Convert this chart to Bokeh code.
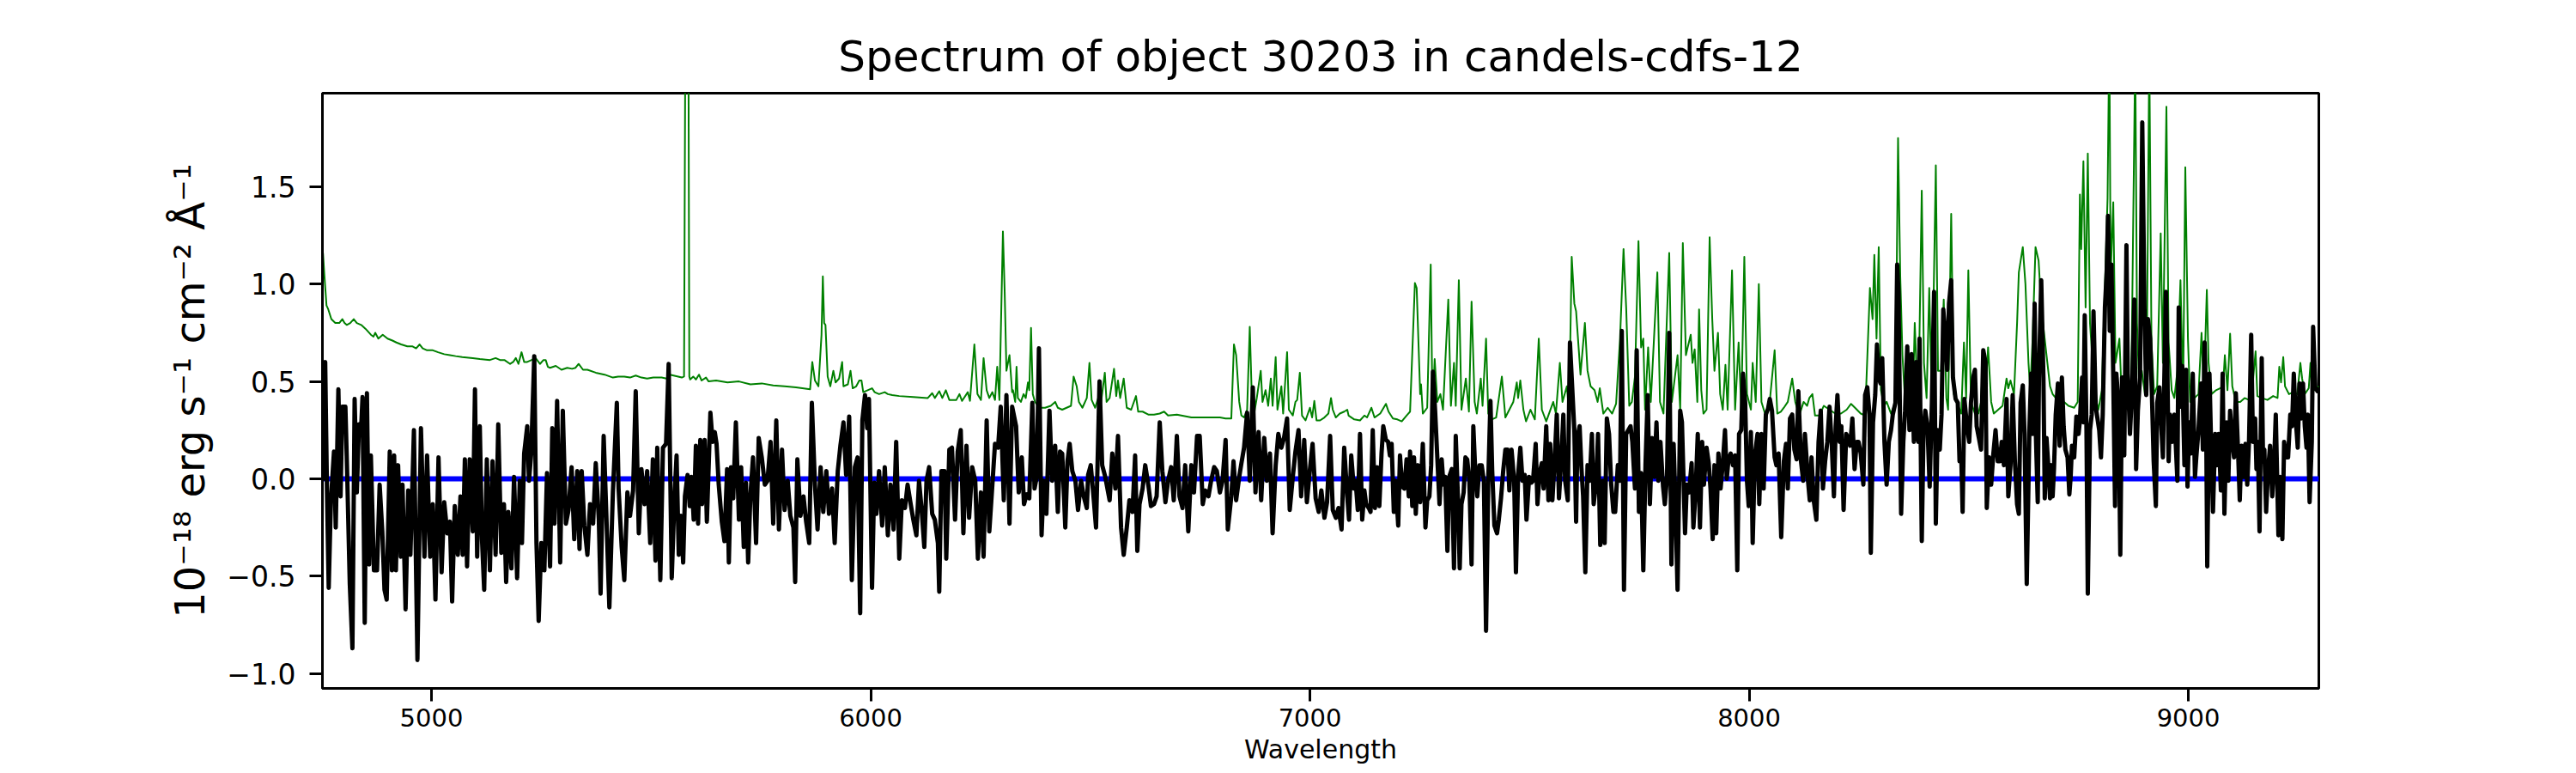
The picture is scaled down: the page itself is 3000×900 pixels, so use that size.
from bokeh.plotting import figure
from bokeh.models import Range1d, FixedTicker, CustomJSTickFormatter, Span
from bokeh.embed import file_html
from bokeh.resources import INLINE

TITLE = "Spectrum of object 30203 in candels-cdfs-12"
X_LABEL = "Wavelength"
Y_LABEL = "10\u207b\u00b9\u2078 erg s\u207b\u00b9 cm\u207b\u00b2 \u00c5\u207b\u00b9"
X_TICKS = [5000, 6000, 7000, 8000, 9000]
Y_TICKS = [-1.0, -0.5, 0.0, 0.5, 1.0, 1.5]
X_LIMITS = (4751.7, 9297.0)
Y_LIMITS = (-1.076, 1.98)
ZERO_LEVEL = 0.0

FLUX_WAVE_A = [
    4755, 4758, 4762, 4766, 4771, 4778, 4782, 4788, 4793, 4797,
    4804, 4808, 4814, 4820, 4825, 4830, 4835, 4840, 4843, 4848,
    4853, 4858, 4862, 4869, 4876, 4882, 4888, 4893, 4898, 4905,
    4910, 4915, 4919, 4924, 4930, 4934, 4941, 4947, 4952, 4960,
    4968, 4976, 4984, 4990, 4997, 5003, 5009, 5016, 5023, 5029,
    5036, 5042, 5047, 5053, 5060, 5066, 5071, 5076, 5081, 5087,
    5094, 5099, 5104, 5110, 5115, 5120, 5126, 5133, 5139, 5146,
    5152, 5159, 5165, 5170, 5175, 5182, 5188, 5195, 5201, 5206,
    5211, 5218, 5222, 5227, 5234, 5239, 5244, 5250, 5257, 5263,
    5270, 5275, 5280, 5286, 5293, 5299, 5306, 5312, 5319, 5325,
    5332, 5337, 5342, 5348, 5355, 5361, 5368, 5374, 5381, 5385,
    5392, 5397, 5405, 5413, 5422, 5426, 5433, 5439, 5446, 5452,
    5459, 5465, 5472, 5478, 5485, 5491, 5498, 5504, 5510, 5514,
    5521, 5527, 5534, 5540, 5547,
]
FLUX_A = [
    -0.01, 0.60, -0.05, -0.56, -0.11, 0.14, -0.25, 0.46, -0.09, 0.37,
    0.37, 0.03, -0.54, -0.87, 0.41, -0.07, 0.28, 0.27, 0.42, -0.74,
    0.44, -0.44, 0.12, -0.47, -0.47, -0.03, -0.27, -0.57, -0.62, 0.14,
    -0.47, 0.12, -0.47, 0.07, -0.40, -0.03, -0.67, -0.06, -0.39, 0.25,
    -0.93, 0.26, -0.40, 0.12, -0.40, -0.13, -0.62, 0.11, -0.48, -0.12,
    -0.28, -0.22, -0.63, -0.14, -0.39, -0.09, -0.39, 0.10, -0.45, 0.10,
    -0.27, 0.46, -0.40, 0.27, -0.31, -0.57, 0.10, -0.47, 0.09, -0.39,
    0.28, -0.38, -0.13, -0.53, -0.17, -0.46, 0.01, -0.51, -0.01, -0.33,
    0.13, 0.27, -0.01, 0.13, 0.63, -0.33, -0.73, -0.33, -0.47, 0.03,
    -0.45, 0.26, -0.23, 0.40, -0.43, 0.35, -0.23, -0.16, 0.06, -0.31,
    0.04, -0.36, 0.04, -0.24, -0.39, -0.13, -0.23, 0.08, -0.21, -0.59,
    0.22, -0.11, -0.66, -0.07, 0.39, -0.05, -0.35, -0.52, -0.07, -0.19,
    -0.06, 0.45, -0.28, 0.05, -0.13, 0.04, -0.33, 0.10, -0.42, 0.16,
    -0.52, 0.16, 0.18, 0.59, -0.51,
]
FLUX_WAVE_B = [
    5553, 5558, 5563, 5568, 5573, 5577, 5583, 5588, 5592, 5597,
    5602, 5607, 5612, 5616, 5622, 5627, 5635, 5640, 5645, 5649,
    5654, 5661, 5667, 5673, 5677, 5682, 5687, 5693, 5700, 5705,
    5711, 5716, 5721, 5726, 5732, 5739, 5745, 5752, 5759, 5765,
    5772, 5778, 5785, 5791, 5798, 5804, 5811, 5817, 5824, 5828,
    5833, 5840, 5847, 5853, 5860, 5866, 5873, 5879, 5886, 5892,
    5899, 5905, 5912, 5918, 5925, 5931, 5938, 5944, 5951, 5957,
    5964, 5970, 5976, 5981, 5987, 5992, 5996, 6003, 6008, 6013,
    6019, 6026, 6032, 6039, 6045, 6052, 6058, 6065, 6071, 6078,
    6084, 6091, 6097, 6104, 6110, 6116, 6122, 6127, 6133, 6140,
    6146, 6153, 6156, 6161, 6168, 6172, 6179, 6185, 6192, 6198,
    6205, 6211, 6218, 6224, 6231, 6238, 6244, 6251, 6257, 6264,
    6270, 6277, 6283, 6290, 6296, 6303, 6309, 6316, 6322,
]
FLUX_B = [
    -0.11, 0.12, -0.39, -0.19, -0.43, -0.09, 0.02, -0.14, 0.01, -0.21,
    0.17, -0.23, 0.20, -0.13, 0.20, -0.22, 0.34, 0.19, 0.24, 0.18,
    -0.03, -0.22, -0.32, 0.05, -0.43, 0.06, -0.10, 0.29, -0.21, 0.06,
    -0.35, -0.02, -0.43, -0.09, 0.11, -0.33, 0.21, 0.11, -0.03, -0.01,
    0.19, -0.23, 0.30, -0.26, 0.15, -0.16, -0.01, -0.19, -0.25, -0.53,
    0.10, -0.19, -0.09, -0.22, -0.33, 0.39, -0.03, -0.26, 0.06, -0.17,
    0.04, -0.18, -0.05, -0.33, 0.04, 0.17, 0.29, 0.02, 0.32, -0.52,
    0.06, 0.11, -0.69, 0.30, 0.43, 0.26, 0.41, -0.56, -0.02, -0.18,
    0.04, -0.24, 0.06, -0.29, -0.03, -0.26, 0.19, -0.41, -0.11, -0.15,
    -0.03, -0.13, -0.21, -0.29, -0.01, -0.16, -0.35, -0.01, 0.06, -0.18,
    -0.21, -0.33, -0.58, 0.04, 0.04, -0.41, 0.15, 0.16, -0.21, 0.14,
    0.25, -0.28, 0.17, -0.20, 0.06, -0.01, -0.41, -0.07, -0.40, 0.30,
    -0.27, -0.03, 0.18, 0.16, 0.37, -0.11, 0.43, -0.23, 0.37,
]
FLUX_WAVE_C = [
    6331, 6337, 6344, 6349, 6355, 6361, 6368, 6373, 6378, 6383,
    6389, 6394, 6400, 6407, 6413, 6420, 6426, 6431, 6436, 6443,
    6448, 6453, 6459, 6466, 6472, 6479, 6485, 6492, 6495, 6501,
    6508, 6513, 6521, 6527, 6534, 6544, 6550, 6557, 6563, 6570,
    6576, 6583, 6589, 6596, 6602, 6607, 6612, 6619, 6625, 6632,
    6638, 6645, 6651, 6658, 6664, 6671, 6677, 6684, 6690, 6697,
    6703, 6710, 6716, 6723, 6730, 6736, 6743, 6749, 6756, 6762,
    6769, 6775, 6782, 6788, 6795, 6801, 6808, 6813, 6821, 6826,
    6832, 6839, 6844, 6850, 6857, 6863, 6870, 6876, 6883, 6889,
    6896, 6902, 6909, 6915, 6922, 6928, 6935, 6941, 6948, 6954,
    6961, 6967, 6974, 6980, 6987, 6993, 7000, 7006, 7013, 7020,
    7026, 7033, 7039, 7046, 7052, 7059, 7065, 7072, 7078, 7085,
]
FLUX_C = [
    0.27, -0.07, 0.11, -0.13, -0.08, -0.10, 0.39, -0.05, 0.01, 0.67,
    -0.29, -0.01, -0.18, 0.35, -0.01, 0.17, -0.17, 0.14, 0.13, -0.25,
    0.09, 0.18, 0.04, -0.01, -0.16, -0.01, -0.09, -0.15, 0.02, 0.07,
    -0.11, -0.25, 0.50, 0.07, 0.01, -0.11, 0.13, -0.05, 0.22, -0.25,
    -0.39, -0.25, -0.11, -0.17, 0.12, -0.37, -0.13, -0.05, 0.07, -0.03,
    -0.14, -0.13, -0.09, 0.29, 0.04, -0.12, -0.01, 0.06, -0.11, 0.22,
    -0.09, -0.15, 0.07, -0.27, 0.07, -0.07, 0.22, 0.22, -0.13, -0.06,
    -0.09, -0.01, 0.06, 0.04, -0.07, -0.01, 0.20, -0.26, -0.09, 0.09,
    -0.11, 0.01, 0.08, 0.16, 0.34, -0.01, 0.47, -0.07, 0.24, -0.11,
    0.21, -0.01, 0.13, -0.28, 0.07, 0.23, 0.16, 0.21, 0.31, -0.16,
    0.01, 0.14, 0.25, -0.09, 0.20, -0.12, 0.05, 0.18, -0.10, -0.17,
    -0.06, -0.20, -0.12, 0.22, -0.16, -0.20, -0.15, -0.26, 0.16, -0.09,
]
FLUX_WAVE_D = [
    7089, 7094, 7100, 7104, 7109, 7114, 7119, 7124, 7128, 7134,
    7138, 7143, 7148, 7153, 7158, 7163, 7167, 7173, 7178, 7182,
    7186, 7191, 7195, 7201, 7205, 7210, 7215, 7220, 7225, 7228,
    7233, 7237, 7241, 7246, 7251, 7257, 7263, 7267, 7272, 7276,
    7280, 7285, 7290, 7295, 7300, 7304, 7308, 7313, 7317, 7323,
    7328, 7332, 7337, 7341, 7345, 7350, 7354, 7358, 7363, 7368,
    7372, 7376, 7381, 7386, 7391, 7396, 7401, 7406, 7411, 7415,
    7420, 7426, 7430, 7435, 7440, 7445, 7450, 7454, 7459, 7465,
    7469, 7474, 7479, 7484, 7489, 7493, 7499, 7504, 7508, 7514,
    7518, 7523, 7528, 7532, 7538, 7543, 7547, 7552, 7557, 7562,
    7567, 7572, 7577, 7581, 7587, 7592, 7596, 7602, 7606, 7609,
    7614, 7618, 7622, 7627, 7632, 7637, 7642, 7646, 7652, 7656,
    7661, 7667, 7671, 7676, 7681, 7686, 7691, 7695, 7701, 7706,
    7710, 7715, 7720, 7725, 7730, 7734, 7740, 7744, 7749, 7754,
    7759, 7764, 7769, 7774, 7779, 7784, 7789, 7793, 7798, 7804,
    7808, 7813, 7818, 7823, 7828, 7832, 7837, 7843, 7847,
]
FLUX_D = [
    -0.21, 0.12, -0.05, -0.01, -0.16, 0.23, -0.21, -0.06, -0.13, -0.15,
    -0.17, 0.25, -0.15, 0.06, -0.14, 0.13, 0.27, 0.20, 0.19, 0.12,
    0.18, -0.17, -0.01, -0.24, 0.12, -0.04, -0.05, 0.10, -0.09, 0.14,
    -0.14, 0.11, -0.18, 0.07, -0.12, 0.18, -0.25, -0.11, -0.09, 0.07,
    0.55, 0.35, 0.11, -0.13, 0.10, -0.03, 0.01, -0.37, 0.01, 0.05,
    -0.46, 0.22, -0.10, -0.46, -0.13, -0.07, 0.11, 0.10, -0.01, -0.44,
    0.27, 0.06, -0.09, 0.07, 0.07, -0.01, -0.78, -0.01, 0.40, 0.04,
    -0.24, -0.28, -0.21, -0.10, 0.04, 0.15, 0.15, -0.06, 0.15, -0.01,
    -0.48, 0.02, 0.16, -0.01, 0.02, -0.21, 0.01, -0.02, -0.01, 0.18,
    -0.13, 0.03, 0.08, -0.05, 0.27, -0.11, 0.18, -0.11, 0.09, 0.33,
    -0.10, 0.09, 0.33, -0.01, -0.11, 0.70, 0.52, 0.25, -0.22, 0.21,
    0.27, 0.06, -0.09, -0.48, 0.07, -0.01, 0.23, -0.13, -0.01, 0.23,
    -0.34, -0.01, -0.33, 0.31, 0.23, -0.03, -0.17, -0.17, 0.07, -0.01,
    0.76, -0.57, 0.23, 0.25, 0.27, 0.19, -0.05, 0.66, -0.17, 0.03,
    -0.47, 0.07, 0.43, -0.13, 0.21, 0.01, 0.29, -0.01, 0.19, -0.04,
    -0.13, 0.01, 0.75, -0.44, 0.18, -0.11, -0.57, 0.35, 0.29,
]
FLUX_WAVE_E = [
    7854, 7858, 7863, 7869, 7873, 7878, 7883, 7888, 7893, 7897,
    7903, 7908, 7912, 7917, 7921, 7925, 7930, 7935, 7940, 7945,
    7949, 7953, 7958, 7963, 7968, 7973, 7977, 7982, 7986, 7991,
    7995, 7999, 8004, 8008, 8013, 8019, 8023, 8028, 8033, 8038,
    8043, 8047, 8052, 8058, 8062, 8067, 8073, 8079, 8084, 8088,
    8093, 8098, 8103, 8108, 8112, 8118, 8123, 8127, 8134, 8138,
    8142, 8147, 8153, 8158, 8163, 8168, 8173, 8178, 8183, 8188,
    8193, 8197, 8201, 8206, 8210, 8215, 8221, 8225, 8230, 8235,
    8240, 8245, 8249, 8254, 8260, 8264, 8269, 8274, 8277, 8282,
    8287, 8291, 8295, 8299, 8303, 8308, 8313, 8318, 8323, 8327,
    8333, 8337, 8340, 8346, 8351, 8355, 8360, 8365, 8370, 8375,
    8380, 8385, 8388, 8393, 8397, 8401, 8406, 8411, 8416, 8421,
    8425, 8429, 8434, 8438, 8442, 8447, 8451, 8455, 8460, 8464,
    8470, 8475, 8479, 8483, 8486, 8490, 8496, 8501, 8505, 8510,
    8514, 8518, 8523, 8528, 8533, 8538, 8541, 8546, 8551, 8556,
    8561, 8566, 8571, 8575, 8580, 8586, 8590, 8595, 8600, 8605,
    8610,
]
FLUX_E = [
    -0.28, -0.03, -0.07, 0.08, -0.25, -0.07, 0.23, -0.25, 0.19, -0.03,
    0.16, 0.08, -0.05, -0.31, 0.07, -0.28, 0.13, -0.05, 0.08, 0.25,
    0.00, 0.10, 0.13, 0.07, 0.12, -0.47, 0.23, 0.25, 0.54, 0.39,
    -0.01, -0.14, 0.24, -0.33, 0.12, 0.23, -0.13, 0.23, -0.05, 0.33,
    0.36, 0.41, 0.35, 0.11, 0.07, 0.13, -0.30, 0.09, 0.18, -0.05,
    0.31, 0.33, 0.15, 0.10, 0.45, 0.09, -0.01, 0.23, -0.01, -0.11,
    0.11, -0.11, -0.21, 0.19, 0.35, -0.05, 0.09, 0.19, 0.37, 0.18,
    -0.09, 0.27, 0.43, 0.19, 0.27, -0.16, 0.23, 0.21, 0.17, 0.31,
    0.05, 0.19, 0.19, 0.13, -0.03, 0.43, 0.47, 0.33, -0.38, 0.29,
    0.43, 0.69, 0.52, 0.49, 0.62, 0.19, -0.03, 0.19, 0.25, 0.33,
    0.39, 1.10, 0.96, -0.18, 0.19, 0.35, 0.68, 0.25, 0.64, 0.19,
    0.60, 0.19, 0.72, -0.32, 0.25, 0.35, 0.27, -0.04, 0.39, 0.96,
    -0.23, 0.25, 0.15, 0.33, 0.87, 0.72, 0.56, 0.90, 1.02, 0.52,
    0.41, 0.39, 0.09, 0.11, -0.17, 0.41, 0.27, 0.19, 0.39, 0.52,
    0.56, 0.27, 0.21, 0.15, 0.66, 0.60, -0.15, 0.11, -0.03, 0.13,
    0.25, 0.09, 0.09, 0.19, 0.07, 0.41, -0.09, 0.07, 0.43, 0.09,
    -0.13,
]
FLUX_WAVE_F = [
    8614, 8618, 8623, 8627, 8632, 8638, 8642, 8645, 8650, 8653,
    8657, 8660, 8665, 8670, 8673, 8677, 8681, 8685, 8688, 8691,
    8694, 8698, 8703, 8707, 8712, 8716, 8720, 8725, 8729, 8732,
    8735, 8740, 8745, 8750, 8753, 8758, 8761, 8764, 8768, 8771,
    8776, 8780, 8784, 8789, 8793, 8797, 8801, 8805, 8810, 8814,
    8817, 8821, 8825, 8829, 8833, 8836, 8841, 8845, 8849, 8854,
    8859, 8862, 8867, 8872, 8877, 8881, 8885, 8890, 8895, 8900,
    8904, 8908, 8913, 8917, 8921, 8926, 8929, 8934, 8937, 8942,
    8945, 8949, 8952, 8955, 8958, 8963, 8968, 8971, 8975, 8978,
    8982, 8986, 8991, 8995, 8998, 9002, 9006, 9010, 9015, 9018,
    9023, 9029, 9033, 9037, 9040, 9043, 9048, 9051, 9056, 9061,
    9065, 9069, 9074, 9078, 9082, 9087, 9091, 9095, 9100, 9104,
    9108, 9113, 9117, 9121, 9126, 9130, 9134, 9138, 9143, 9147,
    9152, 9155, 9158, 9162, 9167, 9170, 9173, 9177, 9181, 9186,
    9191, 9195, 9199, 9205, 9209, 9214, 9218, 9222, 9227, 9232,
    9236, 9240, 9245, 9249, 9253, 9257, 9261, 9265, 9269, 9272,
    9276, 9281, 9284, 9289, 9294, 9297,
]
FLUX_F = [
    -0.18, 0.39, 0.48, 0.23, -0.54, 0.25, 0.54, 0.23, 0.90, 0.21,
    -0.12, 0.56, 1.02, 0.52, -0.10, 0.21, 0.07, -0.10, 0.07, -0.09,
    0.05, 0.33, 0.49, 0.17, 0.52, 0.27, 0.15, 0.11, -0.08, 0.01,
    0.17, 0.11, 0.32, 0.23, 0.30, 0.52, 0.29, 0.84, 0.25, -0.59,
    0.25, 0.33, 0.86, 0.37, 0.31, 0.25, 0.11, 0.33, 0.88, 1.06,
    1.35, 0.76, 1.10, 0.52, -0.14, 0.54, 0.39, -0.39, 0.52, 0.12,
    1.20, 0.54, 0.23, 0.47, 0.92, 0.05, 0.35, 0.52, 1.83, 0.88,
    0.43, 0.82, 0.72, 0.43, 0.09, -0.14, 0.39, 0.47, 0.33, 0.11,
    0.49, 0.96, 0.60, 0.09, 0.33, 0.19, 0.33, 0.19, -0.01, 0.88,
    0.37, 0.58, 0.07, 0.56, -0.04, 0.29, 0.13, 0.54, 0.01, 0.11,
    0.25, 0.49, 0.15, 0.70, 0.43, -0.45, 0.54, 0.25, -0.17, 0.23,
    0.07, 0.23, -0.06, 0.54, -0.18, 0.29, -0.01, 0.35, 0.19, 0.11,
    0.44, 0.15, -0.11, 0.17, 0.01, 0.18, -0.03, 0.19, 0.74, 0.19,
    0.31, 0.05, 0.19, -0.27, 0.62, 0.09, 0.15, -0.17, 0.03, 0.17,
    -0.09, 0.07, 0.33, -0.29, 0.01, -0.31, 0.19, 0.11, 0.11, 0.33,
    0.27, 0.54, 0.29, 0.16, 0.49, 0.31, 0.49, 0.27, 0.16, 0.33,
    -0.12, 0.19, 0.78, 0.47, 0.45, 0.47,
]

# ---- noise / sky spectrum (green) ----
NOISE_WAVE_A = [
    4753, 4756, 4761, 4765, 4772, 4781, 4790, 4797, 4802, 4807,
    4815, 4823, 4830, 4840, 4850, 4862, 4868, 4872, 4879, 4889,
    4900, 4911, 4920, 4931, 4945, 4957, 4965, 4973, 4980, 4990,
    5003, 5015, 5029, 5042, 5055, 5070, 5094, 5110, 5133, 5146,
    5156, 5166, 5179, 5186, 5192, 5198, 5205, 5211, 5218, 5228,
    5237, 5247, 5255, 5260, 5265, 5270, 5283, 5296, 5309, 5320,
    5328, 5335, 5345, 5355, 5374, 5394, 5413, 5425, 5439, 5452,
    5465, 5478, 5491, 5505, 5524, 5535,
]
NOISE_A = [
    1.16, 1.05, 0.89, 0.87, 0.82, 0.80, 0.80, 0.82, 0.80, 0.79,
    0.80, 0.82, 0.80, 0.79, 0.77, 0.74, 0.73, 0.75, 0.72, 0.74,
    0.72, 0.71, 0.70, 0.69, 0.68, 0.68, 0.67, 0.69, 0.67, 0.66,
    0.66, 0.65, 0.64, 0.635, 0.63, 0.625, 0.62, 0.615, 0.61, 0.62,
    0.61, 0.61, 0.59, 0.60, 0.62, 0.59, 0.65, 0.60, 0.60, 0.61,
    0.62, 0.59, 0.61, 0.61, 0.575, 0.57, 0.58, 0.56, 0.57, 0.565,
    0.57, 0.59, 0.56, 0.56, 0.545, 0.535, 0.52, 0.525, 0.525, 0.52,
    0.53, 0.52, 0.515, 0.52, 0.52, 0.515,
]
NOISE_WAVE_B = [
    5543, 5570, 5575, 5578, 5581, 5585, 5587, 5589, 5596, 5602,
    5609, 5615, 5625, 5631, 5648, 5674, 5700, 5726, 5752, 5778,
    5804, 5830, 5862, 5867, 5873, 5881, 5888, 5891, 5894, 5897,
    5902, 5908, 5915, 5920, 5928, 5935, 5938, 5948, 5954, 5959,
    5967, 5974, 5979, 5983, 5993, 6003, 6009, 6019, 6032, 6039,
    6049, 6065, 6097, 6130, 6140, 6146, 6156, 6163, 6171, 6179,
    6195, 6202, 6208, 6221, 6226, 6236, 6243, 6251, 6257, 6264,
    6270, 6277, 6283, 6288, 6293, 6301, 6305, 6309, 6316, 6322,
]
NOISE_B = [
    0.535, 0.52, 0.525, 2.3, 2.4, 2.3, 0.525, 0.51, 0.525, 0.51,
    0.535, 0.505, 0.52, 0.50, 0.505, 0.495, 0.50, 0.485, 0.49, 0.48,
    0.475, 0.47, 0.46, 0.60, 0.505, 0.475, 0.74, 1.04, 0.80, 0.79,
    0.525, 0.475, 0.555, 0.495, 0.515, 0.60, 0.475, 0.485, 0.555, 0.465,
    0.475, 0.505, 0.505, 0.445, 0.455, 0.465, 0.445, 0.435, 0.445, 0.435,
    0.43, 0.425, 0.42, 0.415, 0.44, 0.415, 0.45, 0.415, 0.455, 0.405,
    0.405, 0.435, 0.40, 0.445, 0.40, 0.69, 0.435, 0.405, 0.62, 0.455,
    0.415, 0.445, 0.405, 0.575, 0.405, 1.27, 0.96, 0.555, 0.635, 0.445,
]
NOISE_WAVE_C = [
    6324, 6329, 6332, 6335, 6342, 6348, 6353, 6358, 6361, 6365,
    6369, 6374, 6384, 6397, 6410, 6420, 6426, 6436, 6456, 6462,
    6469, 6474, 6482, 6492, 6498, 6503, 6511, 6518, 6524, 6533,
    6537, 6544, 6554, 6559, 6563, 6568, 6576, 6583, 6593, 6604,
    6609, 6619, 6632, 6645, 6658, 6668, 6677, 6697, 6730, 6762,
    6795, 6808, 6821, 6827, 6832, 6839, 6844, 6850, 6857, 6863,
    6868, 6873, 6879, 6888, 6892, 6899, 6905, 6911, 6915, 6922,
    6926, 6935, 6939, 6948, 6952, 6961, 6967, 6971, 6977, 6982,
    6990, 7000, 7005, 7010, 7015, 7023, 7033, 7042, 7048, 7052,
    7059, 7068, 7078, 7085,
]
NOISE_C = [
    0.455, 0.395, 0.575, 0.415, 0.395, 0.435, 0.415, 0.495, 0.455, 0.775,
    0.435, 0.395, 0.365, 0.365, 0.375, 0.395, 0.365, 0.355, 0.375, 0.525,
    0.475, 0.395, 0.365, 0.415, 0.595, 0.405, 0.365, 0.415, 0.385, 0.545,
    0.395, 0.415, 0.565, 0.425, 0.505, 0.415, 0.515, 0.365, 0.355, 0.425,
    0.345, 0.345, 0.33, 0.33, 0.335, 0.345, 0.325, 0.33, 0.315, 0.315,
    0.315, 0.31, 0.31, 0.69, 0.635, 0.395, 0.325, 0.315, 0.355, 0.78,
    0.395, 0.335, 0.415, 0.555, 0.395, 0.455, 0.375, 0.515, 0.375, 0.625,
    0.355, 0.475, 0.335, 0.65, 0.355, 0.325, 0.395, 0.405, 0.545, 0.325,
    0.30, 0.365, 0.315, 0.40, 0.30, 0.30, 0.315, 0.335, 0.415, 0.355,
    0.315, 0.335, 0.345, 0.355,
]
NOISE_WAVE_D = [
    7088, 7101, 7114, 7124, 7130, 7140, 7147, 7160, 7173, 7179,
    7189, 7199, 7209, 7220, 7228, 7239, 7243, 7251, 7253, 7257,
    7267, 7275, 7279, 7284, 7290, 7297, 7303, 7315, 7321, 7328,
    7332, 7339, 7345, 7355, 7362, 7368, 7375, 7380, 7389, 7393,
    7401, 7406, 7414, 7424, 7437, 7445, 7454, 7463, 7471, 7474,
    7479, 7486, 7492, 7502, 7512, 7521, 7528, 7538, 7554, 7560,
    7569, 7575, 7585, 7590, 7596, 7602, 7606, 7616, 7626, 7632,
    7639, 7648, 7655, 7660, 7668, 7678, 7688, 7697, 7706, 7714,
    7720, 7727, 7733, 7740, 7748, 7754, 7759, 7763, 7770, 7776,
    7791, 7797, 7805, 7818, 7824, 7837, 7843, 7849,
]
NOISE_D = [
    0.325, 0.305, 0.30, 0.325, 0.315, 0.365, 0.315, 0.335, 0.385, 0.345,
    0.31, 0.305, 0.295, 0.325, 0.345, 1.005, 0.98, 0.435, 0.485, 0.335,
    0.365, 1.10, 0.355, 0.615, 0.395, 0.435, 0.355, 0.92, 0.375, 0.595,
    0.375, 1.02, 0.355, 0.515, 0.345, 0.91, 0.395, 0.335, 0.515, 0.375,
    0.72, 0.335, 0.305, 0.315, 0.525, 0.315, 0.355, 0.395, 0.495, 0.415,
    0.505, 0.355, 0.295, 0.355, 0.305, 0.72, 0.355, 0.295, 0.395, 0.335,
    0.595, 0.395, 0.475, 0.335, 1.14, 0.90, 0.86, 0.535, 0.80, 0.555,
    0.475, 0.455, 0.395, 0.465, 0.335, 0.365, 0.335, 0.385, 0.72, 1.18,
    0.88, 0.375, 0.395, 0.525, 1.22, 0.675, 0.72, 0.355, 0.675, 0.395,
    1.06, 0.395, 0.335, 1.16, 0.395, 0.635, 0.355, 1.21,
]
NOISE_WAVE_E = [
    7856, 7860, 7867, 7871, 7876, 7882, 7886, 7891, 7896, 7903,
    7910, 7916, 7921, 7929, 7934, 7940, 7946, 7951, 7961, 7968,
    7976, 7982, 7989, 7995, 8004, 8008, 8015, 8022, 8028, 8036,
    8046, 8058, 8064, 8072, 8079, 8088, 8098, 8105, 8114, 8124,
    8132, 8137, 8144, 8150, 8160, 8170, 8183, 8196, 8209, 8222,
    8232, 8241, 8254, 8264, 8275, 8281, 8285, 8290, 8295, 8300,
    8307, 8313, 8323, 8333, 8339, 8344, 8349, 8355, 8362, 8372,
    8377, 8385, 8393, 8398, 8404, 8410, 8416, 8425, 8430, 8437,
    8443, 8449, 8453, 8460, 8466, 8476, 8483, 8489, 8494, 8499,
    8505, 8514, 8522, 8528, 8533, 8539, 8544, 8551, 8557, 8567,
    8577, 8586, 8590, 8595, 8603, 8610,
]
NOISE_E = [
    0.635, 0.675, 0.74, 0.595, 0.665, 0.395, 0.87, 0.455, 0.335, 0.355,
    1.24, 0.82, 0.555, 0.75, 0.435, 0.355, 0.585, 0.355, 1.07, 0.355,
    0.70, 0.355, 1.14, 0.435, 0.355, 0.595, 0.395, 1.00, 0.395, 0.335,
    0.375, 0.66, 0.335, 0.345, 0.365, 0.395, 0.515, 0.395, 0.325, 0.395,
    0.375, 0.415, 0.435, 0.325, 0.325, 0.375, 0.355, 0.335, 0.335, 0.355,
    0.385, 0.365, 0.335, 0.325, 0.98, 0.82, 1.15, 0.72, 1.19, 0.455,
    0.375, 0.395, 0.335, 0.395, 1.75, 1.04, 0.635, 0.395, 0.335, 0.335,
    0.80, 0.335, 1.48, 0.595, 0.415, 0.98, 0.395, 1.61, 0.555, 0.555,
    0.92, 0.415, 0.355, 1.36, 0.435, 0.375, 0.335, 0.70, 0.415, 1.07,
    0.395, 0.335, 0.335, 0.395, 0.635, 0.475, 0.675, 0.395, 0.335, 0.355,
    0.375, 0.515, 0.465, 0.505, 0.435, 0.80,
]
NOISE_WAVE_F = [
    8614, 8623, 8629, 8636, 8640, 8645, 8652, 8659, 8665, 8675,
    8685, 8691, 8698, 8707, 8717, 8727, 8740, 8748, 8753, 8756,
    8761, 8766, 8771, 8776, 8782, 8789, 8795, 8803, 8812, 8816,
    8820, 8823, 8829, 8834, 8843, 8848, 8854, 8861, 8870, 8879,
    8883, 8888, 8894, 8901, 8906, 8911, 8916, 8922, 8929, 8937,
    8942, 8950, 8955, 8962, 8968, 8975, 8982, 8988, 8993, 8999,
    9004, 9014, 9023, 9030, 9035, 9042, 9046, 9053, 9063, 9072,
    9079, 9083, 9089, 9095, 9100, 9108, 9118, 9128, 9138, 9144,
    9153, 9157, 9167, 9180, 9193, 9203, 9207, 9211, 9216, 9220,
    9229, 9239, 9248, 9255, 9259, 9265, 9274, 9278, 9281, 9287,
    9297,
]
NOISE_F = [
    1.06, 1.19, 1.00, 0.595, 0.455, 0.70, 1.19, 1.12, 0.88, 0.675,
    0.475, 0.435, 0.415, 0.375, 0.395, 0.375, 0.365, 0.395, 1.46, 1.18,
    1.63, 0.88, 1.67, 0.80, 0.595, 0.415, 0.355, 0.455, 1.14, 1.44,
    2.3, 1.04, 1.42, 0.595, 0.72, 0.435, 0.475, 0.415, 0.475, 2.2,
    0.80, 0.475, 0.555, 0.435, 0.80, 2.2, 0.70, 0.435, 0.475, 1.26,
    0.595, 1.91, 0.70, 0.455, 0.415, 0.555, 1.02, 0.435, 1.60, 0.72,
    0.395, 0.415, 0.435, 0.75, 0.435, 0.97, 0.595, 0.435, 0.455, 0.465,
    0.475, 0.635, 0.455, 0.745, 0.475, 0.395, 0.395, 0.415, 0.405, 0.425,
    0.655, 0.425, 0.415, 0.405, 0.425, 0.415, 0.575, 0.495, 0.625, 0.475,
    0.435, 0.445, 0.435, 0.595, 0.515, 0.435, 0.465, 0.595, 0.475, 0.455,
    0.475,
]

flux_wave = FLUX_WAVE_A + FLUX_WAVE_B + FLUX_WAVE_C + FLUX_WAVE_D + FLUX_WAVE_E + FLUX_WAVE_F
flux = FLUX_A + FLUX_B + FLUX_C + FLUX_D + FLUX_E + FLUX_F
noise_wave = NOISE_WAVE_A + NOISE_WAVE_B + NOISE_WAVE_C + NOISE_WAVE_D + NOISE_WAVE_E + NOISE_WAVE_F
noise = NOISE_A + NOISE_B + NOISE_C + NOISE_D + NOISE_E + NOISE_F
n1 = min(len(flux_wave), len(flux))
n2 = min(len(noise_wave), len(noise))
flux_wave, flux = flux_wave[:n1], flux[:n1]
noise_wave, noise = noise_wave[:n2], noise[:n2]

FONT = "DejaVu Sans"

p = figure(
    width=2984, height=900,
    output_backend="svg", toolbar_location=None,
    x_range=Range1d(*X_LIMITS), y_range=Range1d(*Y_LIMITS),
    min_border_left=375, min_border_right=284,
    min_border_top=108, min_border_bottom=99,
    title=TITLE,
)
p.background_fill_color = "white"
p.border_fill_color = "white"
p.outline_line_color = "black"
p.outline_line_width = 3
p.xgrid.grid_line_color = None
p.ygrid.grid_line_color = None

p.title.text_font = FONT
p.title.text_font_size = "50px"
p.title.text_font_style = "normal"
p.title.text_color = "black"
p.title.align = "center"
p.title.standoff = 28

for ax in (p.xaxis[0], p.yaxis[0]):
    ax.axis_line_color = "black"
    ax.axis_line_width = 3
    ax.major_tick_line_color = "black"
    ax.major_tick_line_width = 3
    ax.major_tick_out = 15
    ax.major_tick_in = 0
    ax.minor_tick_line_color = None
    ax.major_label_text_font = FONT
    ax.major_label_text_color = "black"
    ax.axis_label_text_font = FONT
    ax.axis_label_text_font_style = "normal"
    ax.axis_label_text_color = "black"

p.xaxis.ticker = FixedTicker(ticks=X_TICKS)
p.xaxis.major_label_text_font_size = "29px"
p.xaxis.major_label_standoff = 8
p.xaxis.axis_label = X_LABEL
p.xaxis.axis_label_text_font_size = "30px"
p.xaxis.axis_label_standoff = 6

p.yaxis.ticker = FixedTicker(ticks=Y_TICKS)
p.yaxis.formatter = CustomJSTickFormatter(code="return tick.toFixed(1).replace('-', '\u2212');")
p.yaxis.major_label_text_font_size = "33px"
p.yaxis.major_label_standoff = 16
p.yaxis.axis_label = Y_LABEL
p.yaxis.axis_label_text_font_size = "48px"
p.yaxis.axis_label_standoff = 12

p.line(noise_wave, noise, line_color="green", line_width=2, line_join="round")
zero = Span(location=ZERO_LEVEL, dimension="width", line_color="blue", line_width=6, level="underlay")
p.add_layout(zero)
p.line(flux_wave, flux, line_color="black", line_width=5, line_join="round")

open("out.html", "w").write(file_html(p, INLINE))
